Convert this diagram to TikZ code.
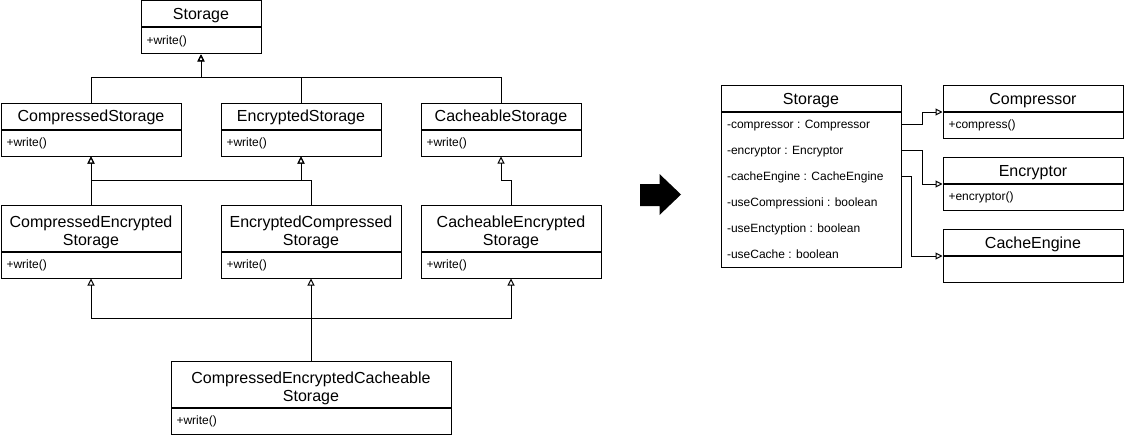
\documentclass[tikz,border=0pt]{standalone}
\usepackage{fontspec}
\setmainfont{Liberation Sans}
\usetikzlibrary{arrows.meta}
\begin{document}
\begin{tikzpicture}[x=1pt,y=-1pt,
  line width=1pt,
  hdr/.style={draw, anchor=north west, inner sep=0pt, align=center,
    font=\fontsize{16}{18.5}\selectfont, minimum height=26pt,
    text height=11.5pt, text depth=0pt},
  nhdr/.style={hdr, minimum height=46pt, text height=35.4pt, text depth=0pt},
  body/.style={draw, anchor=north west, inner xsep=5.5pt, inner ysep=0pt, align=left,
    font=\fontsize{12}{14}\selectfont, minimum height=26pt},
  attr/.style={anchor=west, inner sep=0pt, font=\fontsize{12}{14}\selectfont,
    text height=8.6pt, text depth=0pt},
  inh/.style={-{Triangle[open,length=7pt,width=7pt]}}
]
\useasboundingbox (0,0) rectangle (1124,436);

% ---------- left: inheritance hierarchy ----------
\node[hdr, minimum width=120pt] (sth) at (140.5,0.5) {Storage};
\node[body, text width=109pt] (stb) at (sth.south west) {+write()};

\node[hdr, minimum width=180pt] (csh) at (0.5,102.5) {CompressedStorage};
\node[body, text width=169pt] (csb) at (csh.south west) {+write()};

\node[hdr, minimum width=160pt] (esh) at (220.5,102.5) {EncryptedStorage};
\node[body, text width=149pt] (esb) at (esh.south west) {+write()};

\node[hdr, minimum width=160pt] (chsh) at (420.5,102.5) {CacheableStorage};
\node[body, text width=149pt] (chsb) at (chsh.south west) {+write()};

\node[nhdr, minimum width=180pt] (cesh) at (0.5,204.5) {CompressedEncrypted\\Storage};
\node[body, text width=169pt] (cesb) at (cesh.south west) {+write()};

\node[nhdr, minimum width=180pt] (ecsh) at (220.5,204.5) {EncryptedCompressed\\Storage};
\node[body, text width=169pt] (ecsb) at (ecsh.south west) {+write()};

\node[nhdr, minimum width=180pt] (ceesh) at (420.5,204.5) {CacheableEncrypted\\Storage};
\node[body, text width=169pt] (ceesb) at (ceesh.south west) {+write()};

\node[nhdr, minimum width=280pt] (cecsh) at (170.5,360.5) {CompressedEncryptedCacheable\\Storage};
\node[body, text width=269pt] (cecsb) at (cecsh.south west) {+write()};

% connectors level 1
\draw[inh] (csh.north) -- ++(0,-25) -| (stb.south);
\draw[inh] (esh.north) -- ++(0,-25) -| (stb.south);
\draw[inh] (chsh.north) -- ++(0,-25) -| (stb.south);
% level 2
\draw[inh] (cesh.north) -- (csb.south);
\draw[inh] (cesh.north) -- ++(0,-24) -| (esb.south);
\draw[inh] (ecsh.north) -- ++(0,-24) -| (esb.south);
\draw[inh] (ecsh.north) -- ++(0,-24) -| (csb.south);
\draw[inh] (ceesh.north) -- ++(0,-24) -| (chsb.south);
% level 3
\draw[inh] (cecsh.north) -- ++(0,-42) -| (cesb.south);
\draw[inh] (cecsh.north) -- (ecsb.south);
\draw[inh] (cecsh.north) -- ++(0,-42) -| (ceesb.south);

% ---------- big arrow ----------
\fill (640,184) -- (659.5,184) -- (659.5,174) -- (681,194.5) -- (659.5,215)
  -- (659.5,206) -- (640,206) -- cycle;

% ---------- right: composition ----------
\node[hdr, minimum width=180pt] (srh) at (720.5,85) {Storage};
\node[draw, anchor=north west, minimum width=180pt, minimum height=155pt, inner sep=0pt] (srb) at (srh.south west) {};
\node[attr] (a1) at (726.5,124) {-compressor : Compressor};
\node[attr] (a2) at (726.5,150) {-encryptor : Encryptor};
\node[attr] (a3) at (726.5,176) {-cacheEngine : CacheEngine};
\node[attr] (a4) at (726.5,202) {-useCompressioni : boolean};
\node[attr] (a5) at (726.5,228) {-useEnctyption : boolean};
\node[attr] (a6) at (726.5,254) {-useCache : boolean};

\node[hdr, minimum width=180pt] (comph) at (942.5,85) {Compressor};
\node[body, text width=169pt] (compb) at (comph.south west) {+compress()};

\node[hdr, minimum width=180pt] (ench) at (942.5,157) {Encryptor};
\node[body, text width=169pt] (encb) at (ench.south west) {+encryptor()};

\node[hdr, minimum width=180pt] (ceh) at (942.5,229) {CacheEngine};
\node[body, text width=169pt] (ceb) at (ceh.south west) {};

\draw[inh] (a1.west -| srb.east) -- ++(21,0) |- (comph.south west);
\draw[inh] (a2.west -| srb.east) -- ++(21,0) |- (ench.south west);
\draw[inh] (a3.west -| srb.east) -- ++(10,0) |- (ceh.south west);
\end{tikzpicture}
\end{document}
